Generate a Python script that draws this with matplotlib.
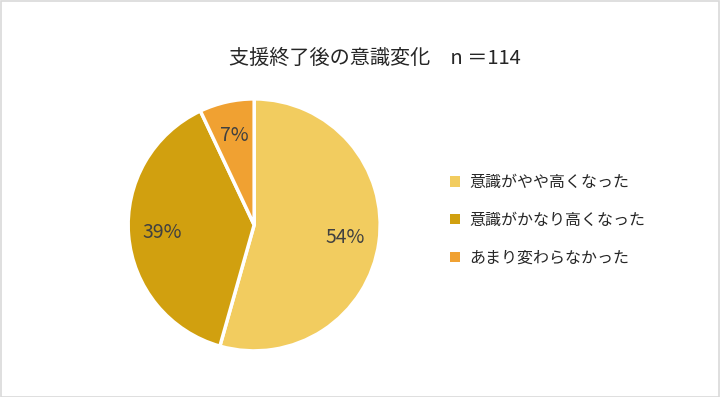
import matplotlib.pyplot as plt
from matplotlib.patches import Rectangle

plt.rcParams['font.family'] = ['Noto Sans CJK JP', 'DejaVu Sans']

# data (n = 114)
labels = ['意識がやや高くなった', '意識がかなり高くなった', 'あまり変わらなかった']
counts = [62, 44, 8]
colors = ['#F2CC5F', '#D1A00F', '#F0A132']
title = '支援終了後の意識変化　n ＝114'

fig = plt.figure(figsize=(7.2, 3.97), dpi=100)
fig.patches.append(Rectangle((0.001, 0.001), 0.997, 0.996, transform=fig.transFigure,
                             fill=False, edgecolor='#D9D9D9', linewidth=1.2))

ax = fig.add_axes([0.178, 0.116, 0.35, 0.635])
wedges, texts, autotexts = ax.pie(counts, colors=colors, startangle=90, counterclock=False,
                                  autopct='%1.0f%%', pctdistance=0.73,
                                  wedgeprops=dict(edgecolor='white', linewidth=2.5),
                                  textprops=dict(color='#404040', fontsize=14))
ax.set_xlim(-1.0, 1.0)
ax.set_ylim(-1.0, 1.0)
ax.set_aspect('equal')

fig.text(0.52, 0.853, title, ha='center', va='center', fontsize=14.5, color='#262626')

leg = fig.legend(wedges, labels, loc='center left', bbox_to_anchor=(0.605, 0.445),
                 frameon=False, fontsize=11.5, handlelength=0.6, handleheight=0.6,
                 handletextpad=0.6, labelspacing=1.3)
for t in leg.get_texts():
    t.set_color('#262626')
for h in leg.legend_handles:
    h.set_edgecolor('none')

fig.savefig('out.png', dpi=100)
